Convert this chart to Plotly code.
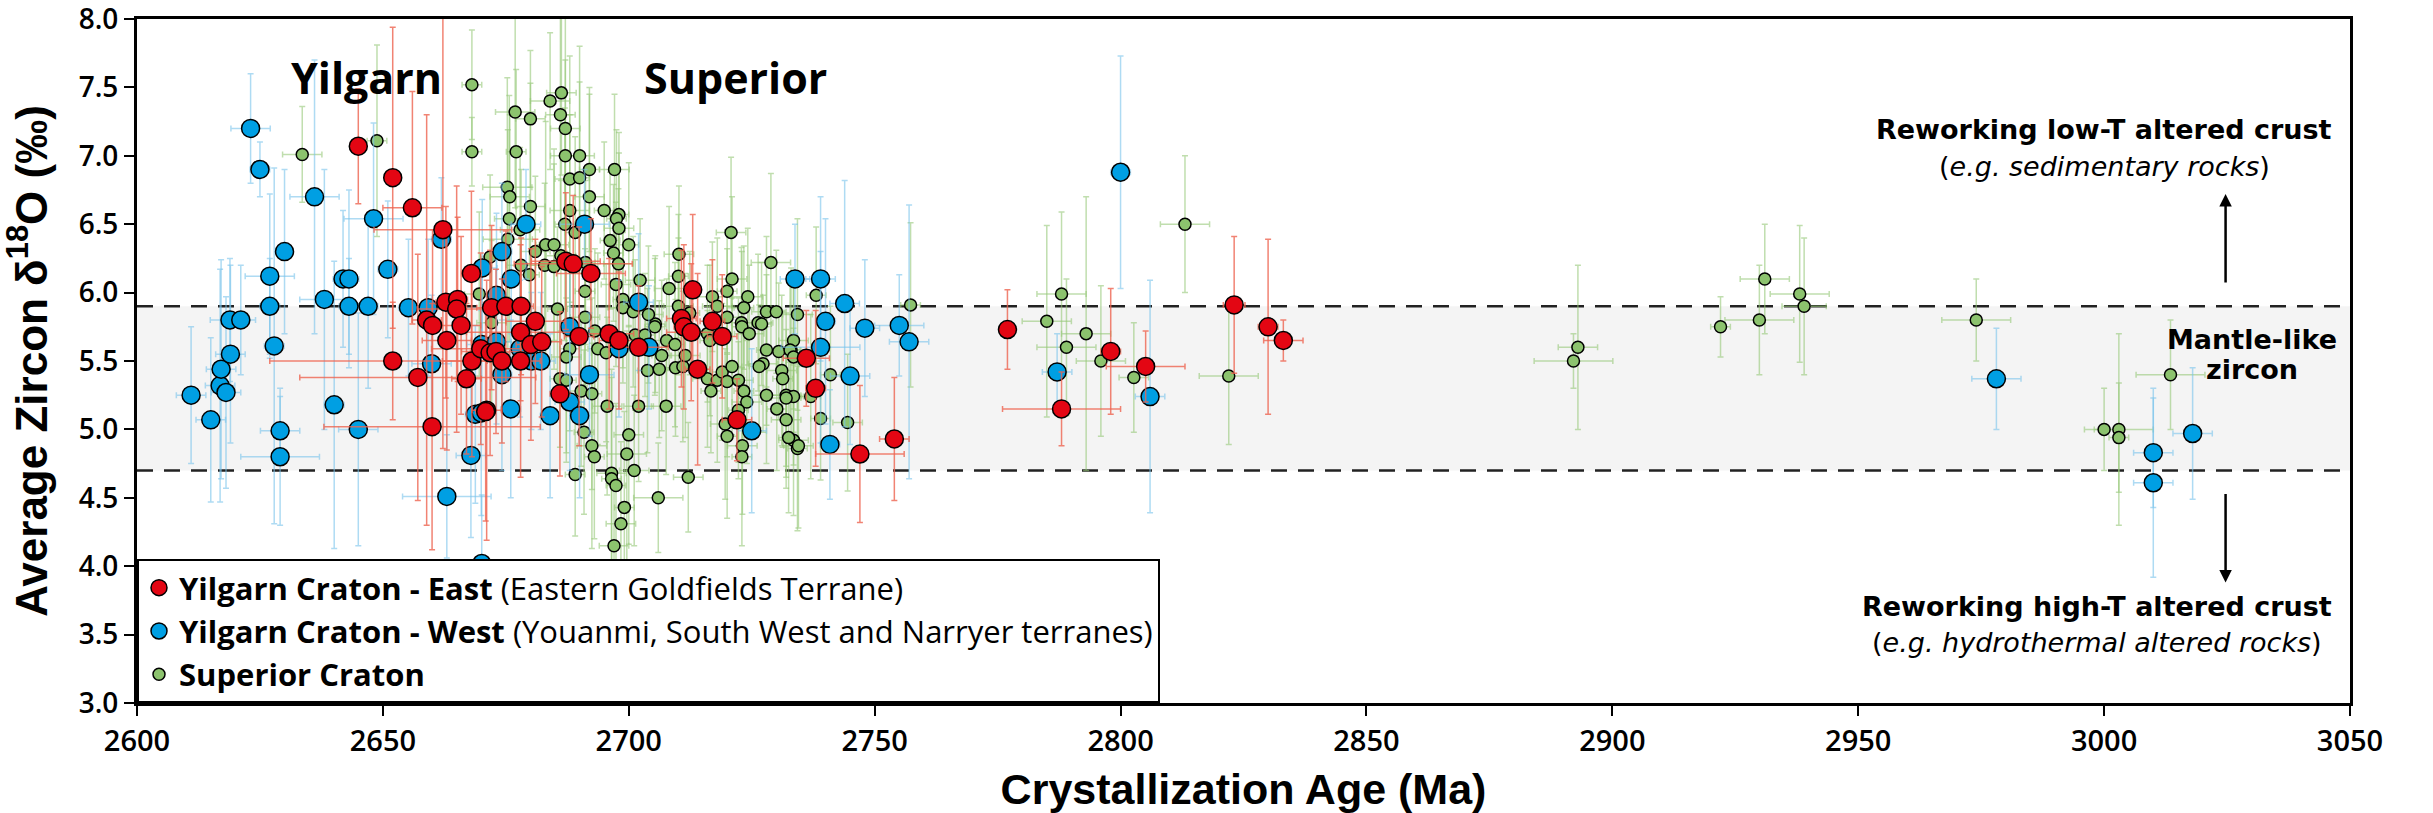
import plotly.graph_objects as go

# ---------------- data ----------------
# Yilgarn Craton - East
east_age = [2645.0, 2652.0, 2656.0, 2662.2, 2668.0, 2687.2, 2688.7, 2692.3, 2713.0, 2662.8,
            2665.2, 2665.0, 2672.1, 2675.0, 2678.1, 2658.9, 2660.1, 2665.9, 2681.0, 2710.7,
            2711.2, 2717.0, 2652.0, 2657.1, 2663.0, 2667.0, 2668.1, 2669.9, 2671.1, 2671.8,
            2673.0, 2674.2, 2678.0, 2678.0, 2680.1, 2682.3, 2686.0, 2689.9, 2696.0, 2698.0,
            2702.0, 2712.7, 2719.0, 2714.0, 2722.0, 2660.0, 2670.9, 2736.1, 2738.0, 2747.0,
            2754.0, 2777.0, 2788.0, 2798.0, 2805.1, 2823.1, 2830.0, 2833.1]
east_d18o = [7.07, 6.84, 6.62, 6.46, 6.14, 6.23, 6.21, 6.14, 6.02, 5.93,
             5.95, 5.88, 5.89, 5.90, 5.90, 5.80, 5.76, 5.76, 5.79, 5.81,
             5.75, 5.79, 5.50, 5.38, 5.65, 5.37, 5.50, 5.59, 5.14, 5.56,
             5.57, 5.50, 5.71, 5.50, 5.62, 5.64, 5.26, 5.68, 5.70, 5.65,
             5.60, 5.71, 5.68, 5.44, 5.07, 5.02, 5.13, 5.52, 5.30, 4.82,
             4.93, 5.73, 5.15, 5.57, 5.46, 5.91, 5.75, 5.65]
east_age_err = [1.0, 1.5, 6.0, 14.0, 2.0, 7.0, 12.0, 7.0, 1.5, 2.0,
                2.0, 8.0, 3.0, 3.0, 2.5, 3.0, 2.0, 4.0, 6.0, 3.0,
                2.0, 2.5, 25.0, 24.0, 5.0, 3.0, 6.0, 10.0, 3.0, 4.0,
                7.0, 3.0, 11.0, 4.0, 3.0, 4.0, 2.0, 3.0, 5.0, 4.0,
                6.0, 5.0, 3.0, 2.5, 3.0, 22.0, 2.0, 4.7, 2.0, 9.0,
                3.0, 1.5, 12.0, 2.0, 8.0, 2.2, 2.0, 4.0]
east_d18o_err = [0.42, 1.10, 0.85, 1.60, 0.60, 0.50, 0.50, 0.40, 0.55, 0.70,
                 0.60, 0.90, 0.60, 0.55, 0.50, 1.50, 0.70, 0.65, 0.60, 0.50,
                 0.60, 0.45, 0.43, 0.90, 0.80, 0.55, 0.70, 0.70, 0.95, 0.75,
                 0.60, 0.60, 0.50, 0.85, 0.70, 0.55, 0.60, 0.80, 0.55, 0.50,
                 0.45, 0.50, 0.45, 0.70, 0.30, 0.90, 0.80, 0.35, 0.57, 0.50,
                 0.45, 0.29, 0.27, 0.46, 0.26, 0.50, 0.64, 0.15]

# Yilgarn Craton - West
west_age = [2611.0, 2615.0, 2616.9, 2617.1, 2618.1, 2619.0, 2618.9, 2621.1, 2623.1, 2625.0,
            2627.0, 2627.0, 2627.9, 2629.1, 2629.1, 2630.0, 2636.1, 2638.1, 2640.1, 2641.9,
            2643.1, 2643.1, 2645.0, 2647.0, 2648.1, 2651.0, 2655.2, 2659.2, 2659.9, 2661.9,
            2663.0, 2667.9, 2668.8, 2670.0, 2670.1, 2670.2, 2670.1, 2673.1, 2673.1, 2674.2,
            2674.2, 2676.0, 2676.1, 2677.9, 2679.1, 2680.2, 2682.1, 2684.0, 2688.0, 2688.0,
            2690.0, 2691.0, 2692.0, 2698.0, 2702.0, 2704.1, 2725.0, 2733.8, 2739.0, 2739.0,
            2740.0, 2740.9, 2743.9, 2745.0, 2748.0, 2755.0, 2757.0, 2787.1, 2800.0, 2806.0,
            2978.1, 3010.0, 3010.0, 3018.0]
west_d18o = [5.25, 5.07, 5.32, 5.44, 5.27, 5.55, 5.80, 5.80, 7.20, 6.90,
             6.12, 5.90, 5.61, 4.99, 4.80, 6.30, 6.70, 5.95, 5.18, 6.10,
             6.10, 5.90, 5.00, 5.90, 6.54, 6.17, 5.89, 5.89, 5.48, 6.39,
             4.51, 4.81, 5.11, 5.12, 4.02, 6.18, 5.62, 5.64, 5.98, 6.30,
             5.40, 5.15, 6.10, 5.59, 6.50, 5.50, 5.50, 5.10, 5.75, 5.20,
             5.10, 6.50, 5.40, 5.59, 5.93, 5.60, 4.99, 6.10, 6.10, 5.60,
             5.79, 4.89, 5.92, 5.39, 5.74, 5.76, 5.64, 5.42, 6.88, 5.24,
             5.37, 4.83, 4.61, 4.97]
west_age_err = [3, 3, 3, 3, 3, 3, 4, 3, 4, 2,
                5, 2, 2, 4, 8, 1, 5, 5, 2, 2,
                2, 2, 4, 2, 6, 2, 2, 3, 4, 2,
                9, 3, 2, 2, 2, 3, 3, 3, 2, 2,
                2, 2, 2, 2, 3, 3, 3, 2, 2, 3,
                2, 5, 5, 2, 3, 2, 3, 3, 3, 8,
                2, 2, 3, 4, 3, 5, 4, 3, 2, 3,
                5, 4, 4, 4]
west_d18o_err = [0.50, 0.60, 0.85, 0.80, 0.70, 0.65, 0.45, 0.40, 0.40, 0.20,
                 0.60, 0.35, 1.30, 0.25, 0.50, 0.60, 1.00, 0.95, 1.05, 0.50,
                 0.65, 0.35, 0.85, 0.60, 0.70, 0.50, 0.50, 0.50, 0.50, 0.45,
                 0.45, 0.60, 0.65, 0.75, 0.50, 0.50, 0.60, 0.60, 0.60, 0.50,
                 0.70, 0.65, 0.40, 0.50, 0.40, 0.50, 0.50, 0.60, 0.50, 0.50,
                 0.60, 0.40, 0.45, 0.50, 0.50, 0.45, 0.60, 0.40, 0.60, 0.70,
                 0.75, 0.40, 0.90, 0.50, 0.50, 0.37, 1.00, 0.28, 0.85, 0.85,
                 0.37, 0.40, 0.69, 0.48]

# Superior Craton
sup_age = [2633.6, 2648.8, 2668.1, 2668.1, 2686.3, 2684.0, 2676.9, 2680.0, 2686.1, 2687.1,
           2677.1, 2687.1, 2690.0, 2697.1, 2692.0, 2688.0, 2690.0, 2675.3, 2675.8, 2692.0,
           2680.0, 2688.0, 2695.0, 2698.0, 2697.5, 2698.0, 2687.0, 2689.1, 2675.7, 2677.9,
           2696.2, 2700.0, 2696.9, 2681.0, 2683.1, 2684.8, 2686.2, 2675.4, 2671.8, 2678.1,
           2679.8, 2682.9, 2684.8, 2691.2, 2697.9, 2691.1, 2697.4, 2702.3, 2710.2, 2710.1,
           2708.2, 2720.8, 2721.0, 2720.0, 2724.2, 2717.0, 2728.9, 2718.0, 2723.4, 2728.0,
           2730.0, 2669.6, 2698.8, 2698.8, 2685.5, 2691.1, 2705.4, 2738.1, 2757.3, 2734.3,
           2710.1, 2712.4, 2700.9, 2704.0, 2720.0, 2722.9, 2726.3, 2672.1, 2693.1, 2693.7,
           2695.4, 2688.0, 2687.3, 2686.0, 2687.3, 2690.3, 2692.5, 2690.9, 2692.5, 2693.0,
           2689.1, 2696.5, 2696.5, 2697.4, 2701.1, 2699.6, 2700.0, 2699.1, 2698.4, 2697.0,
           2706.0, 2712.1, 2695.6, 2702.0, 2707.6, 2703.8, 2706.2, 2706.7, 2707.7, 2709.4,
           2709.5, 2711.0, 2711.5, 2705.3, 2701.3, 2703.3, 2716.0, 2716.7, 2718.0, 2719.0,
           2720.0, 2721.0, 2722.3, 2723.4, 2724.0, 2722.3, 2719.6, 2720.0, 2723.1, 2723.0,
           2728.0, 2730.1, 2732.0, 2728.0, 2730.5, 2733.0, 2727.3, 2726.5, 2731.1, 2731.3,
           2732.0, 2733.5, 2733.5, 2734.3, 2733.5, 2723.0, 2724.5, 2727.0, 2716.0, 2716.5,
           2732.8, 2733.5, 2741.0, 2737.0, 2732.0, 2739.0, 2744.5, 2732.5, 2734.5, 2785.0,
           2788.0, 2793.0, 2789.0, 2796.0, 2802.7, 2813.1, 2822.0, 2893.0, 2892.1, 2922.0,
           2931.0, 2929.9, 2938.1, 2939.0, 2974.0, 3000.0, 3003.0, 3003.0, 3013.5]
sup_d18o = [7.01, 7.11, 7.52, 7.03, 7.46, 7.40, 7.32, 7.27, 7.30, 7.20,
            7.03, 7.00, 7.00, 6.90, 6.90, 6.83, 6.84, 6.77, 6.70, 6.70,
            6.63, 6.60, 6.60, 6.57, 6.54, 6.47, 6.50, 6.44, 6.54, 6.46,
            6.38, 6.35, 6.29, 6.30, 6.35, 6.35, 6.27, 6.39, 6.26, 6.20,
            6.13, 6.20, 6.19, 6.22, 6.21, 6.01, 6.06, 6.09, 6.28, 6.12,
            6.03, 6.44, 6.10, 6.01, 5.97, 5.97, 6.22, 5.90, 5.89, 5.86,
            5.86, 5.99, 5.95, 5.89, 5.88, 5.82, 5.77, 5.98, 5.91, 5.84,
            5.90, 5.85, 5.86, 5.84, 5.82, 5.78, 5.78, 5.78, 5.72, 5.59,
            5.56, 5.59, 5.53, 5.37, 5.36, 5.28, 5.26, 4.98, 4.88, 4.80,
            4.67, 4.68, 4.64, 4.59, 4.70, 4.82, 4.96, 4.43, 4.31, 4.15,
            4.50, 4.65, 5.17, 5.17, 5.17, 5.43, 5.44, 5.54, 5.65, 5.62,
            5.45, 5.46, 5.54, 5.75, 5.69, 5.69, 5.37, 5.28, 5.36, 5.42,
            5.35, 5.46, 5.36, 5.28, 5.20, 5.14, 5.04, 4.95, 4.88, 4.80,
            5.25, 5.15, 5.07, 5.58, 5.57, 5.58, 5.48, 5.46, 5.43, 5.37,
            5.25, 5.24, 4.92, 4.86, 5.65, 5.75, 5.70, 5.77, 5.70, 5.65,
            5.58, 5.53, 5.40, 5.24, 5.23, 5.08, 5.05, 4.94, 4.88, 5.79,
            5.99, 5.70, 5.60, 5.50, 5.38, 6.50, 5.39, 5.60, 5.50, 5.75,
            6.10, 5.80, 5.99, 5.90, 5.80, 5.00, 5.00, 4.94, 5.40]
sup_age_err = [4, 2, 2, 2, 3, 4, 4, 3, 3, 3,
               2, 3, 3, 3, 2, 3, 2, 5, 4, 3,
               3, 4, 2, 2, 2, 3, 2, 2, 3, 4,
               2, 2, 2, 3, 2, 3, 3, 5, 2, 3,
               2, 4, 3, 2, 3, 2, 3, 3, 3, 2,
               3, 3, 3, 2, 3, 4, 4, 3, 2, 3,
               2, 3, 2, 3, 2, 3, 2, 2, 2, 3,
               3, 2, 2, 3, 3, 2, 3, 3, 3, 2,
               3, 2, 3, 2, 2, 3, 2, 2, 3, 2,
               2, 3, 2, 2, 3, 4, 3, 2, 3, 3,
               5, 3, 3, 3, 3, 2, 3, 2, 3, 2,
               3, 2, 3, 2, 3, 2, 3, 2, 3, 2,
               3, 2, 3, 2, 3, 2, 3, 2, 3, 2,
               3, 2, 3, 2, 3, 2, 3, 2, 3, 2,
               3, 2, 3, 2, 3, 2, 3, 2, 3, 2,
               2, 3, 2, 2, 3, 2, 3, 2, 3, 5,
               5, 5, 6, 5, 3, 5, 6, 4, 8, 2,
               5, 7, 6, 4.5, 7, 2, 7, 2, 7]
sup_d18o_err = [0.35, 0.70, 0.40, 0.25, 0.60, 0.50, 0.70, 0.50, 0.80, 0.90,
                0.60, 0.70, 0.80, 0.55, 0.60, 0.90, 0.70, 0.80, 0.60, 0.75,
                0.90, 0.70, 0.50, 0.60, 0.65, 0.55, 0.85, 0.70, 0.90, 0.60,
                0.50, 0.60, 0.50, 0.55, 0.90, 0.70, 0.55, 0.80, 0.60, 0.70,
                0.50, 0.60, 0.75, 0.60, 0.55, 0.70, 0.60, 0.45, 0.50, 0.45,
                0.60, 0.55, 0.60, 0.45, 0.50, 0.40, 0.65, 0.50, 0.45, 0.55,
                0.45, 0.60, 0.50, 0.55, 0.60, 0.50, 0.50, 0.50, 0.60, 0.70,
                0.50, 0.45, 0.55, 0.50, 0.50, 0.55, 0.50, 0.60, 0.60, 0.70,
                0.65, 0.60, 0.70, 0.50, 0.60, 0.55, 0.70, 0.60, 0.75, 0.60,
                0.45, 0.70, 0.80, 0.60, 0.55, 0.90, 0.80, 0.70, 0.60, 0.55,
                0.40, 0.40, 0.65, 0.55, 0.50, 0.60, 0.50, 0.55, 0.45, 0.60,
                0.50, 0.55, 0.60, 0.50, 0.55, 0.45, 0.50, 0.45, 0.60, 0.50,
                0.55, 0.50, 0.60, 0.50, 0.45, 0.50, 0.55, 0.60, 0.50, 0.65,
                0.50, 0.45, 0.50, 0.55, 0.50, 0.60, 0.50, 0.45, 0.55, 0.50,
                0.60, 0.50, 0.55, 0.60, 0.50, 0.55, 0.50, 0.45, 0.50, 0.55,
                0.50, 0.55, 0.50, 0.60, 0.50, 0.45, 0.50, 0.55, 0.60, 0.70,
                0.60, 1.00, 0.50, 0.55, 0.40, 0.50, 0.50, 0.60, 0.20, 0.22,
                0.40, 0.40, 0.50, 0.50, 0.30, 0.30, 0.70, 0.40, 0.40]

series_names = [
    "<b>Superior Craton</b>",
    "<b>Yilgarn Craton - West</b> (Youanmi, South West and Narryer terranes)",
    "<b>Yilgarn Craton - East</b> (Eastern Goldfields Terrane)",
]

mantle_low, mantle_high = 4.7, 5.9

# ---------------- figure ----------------
fig = go.Figure()

def add_series(age, d18o, age_err, d18o_err, name, color, err_color, size, rank):
    fig.add_trace(go.Scatter(
        x=age, y=d18o, mode="markers", name=name, legendrank=rank,
        marker=dict(size=size, color=color, line=dict(color="black", width=1.5)),
        error_x=dict(type="data", array=age_err, color=err_color, thickness=1.5, width=3),
        error_y=dict(type="data", array=d18o_err, color=err_color, thickness=1.5, width=3),
    ))

add_series(sup_age, sup_d18o, sup_age_err, sup_d18o_err, series_names[0],
           "#8cc36e", "rgba(150,200,120,0.6)", 12, 3)
add_series(west_age, west_d18o, west_age_err, west_d18o_err, series_names[1],
           "#009fe3", "rgba(120,195,235,0.6)", 18, 2)
add_series(east_age, east_d18o, east_age_err, east_d18o_err, series_names[2],
           "#e30613", "rgba(238,100,80,0.8)", 18, 1)

# mantle band and dashed limits
fig.add_shape(type="rect", xref="x", yref="y", x0=2600, x1=3050, y0=mantle_low, y1=mantle_high,
              fillcolor="#f4f4f4", line=dict(width=0), layer="below")
for yv in (mantle_low, mantle_high):
    fig.add_shape(type="line", xref="x", yref="y", x0=2600, x1=3050, y0=yv, y1=yv,
                  line=dict(color="#222222", width=2.5, dash="16px,11px"), layer="below")

ann_font = "DejaVu Sans"
annotations = [
    dict(x=2646.6, y=7.57, text="<b>Yilgarn</b>", font=dict(family="Open Sans", size=43, color="black")),
    dict(x=2721.8, y=7.57, text="<b>Superior</b>", font=dict(family="Open Sans", size=43, color="black")),
    dict(x=3000, y=7.19, text="<b>Reworking low-T altered crust</b>", font=dict(family=ann_font, size=27, color="black")),
    dict(x=3000, y=6.92, text="(<i>e.g. sedimentary rocks</i>)", font=dict(family=ann_font, size=27, color="black")),
    dict(x=3030, y=5.66, text="<b>Mantle-like</b>", font=dict(family=ann_font, size=27, color="black")),
    dict(x=3030, y=5.44, text="<b>zircon</b>", font=dict(family=ann_font, size=27, color="black")),
    dict(x=2998.5, y=3.705, text="<b>Reworking high-T altered crust</b>", font=dict(family=ann_font, size=27, color="black")),
    dict(x=2998.5, y=3.44, text="(<i>e.g. hydrothermal altered rocks</i>)", font=dict(family=ann_font, size=27, color="black")),
]
for a in annotations:
    fig.add_annotation(xref="x", yref="y", showarrow=False, xanchor="center", yanchor="middle", **a)

# arrows
fig.add_annotation(x=3024.7, y=6.72, ax=3024.7, ay=6.0, xref="x", yref="y", axref="x", ayref="y",
                   text=" ", showarrow=True, arrowhead=2, arrowsize=1, arrowwidth=2.5, arrowcolor="black")
fig.add_annotation(x=3024.7, y=3.88, ax=3024.7, ay=4.60, xref="x", yref="y", axref="x", ayref="y",
                   text=" ", showarrow=True, arrowhead=2, arrowsize=1, arrowwidth=2.5, arrowcolor="black")

axis_common = dict(showline=True, linewidth=3, linecolor="black", mirror=True, showgrid=False,
                   zeroline=False, ticks="outside", ticklen=10, tickwidth=2, tickcolor="black",
                   ticklabeloverflow="allow", automargin=False)

fig.update_layout(
    width=2433, height=813,
    margin=dict(l=137, r=83, t=19, b=110, autoexpand=False),
    paper_bgcolor="white", plot_bgcolor="white",
    xaxis=dict(range=[2600, 3050], tick0=2600, dtick=50,
               tickfont=dict(family="Open Sans", size=29, color="black", weight=600),
               title=dict(text="<b>Crystallization Age (Ma)</b>", standoff=18,
                          font=dict(family="Liberation Sans", size=43, color="black")),
               **axis_common),
    yaxis=dict(range=[3, 8], tick0=3, dtick=0.5, tickformat=".1f",
               tickfont=dict(family="Open Sans", size=28, color="black", weight=600),
               title=dict(text="<b>Average Zircon δ<sup>18</sup>O (‰)</b>", standoff=18,
                          font=dict(family="Liberation Sans", size=44, color="black")),
               **axis_common),
    legend=dict(x=0, y=0, xanchor="left", yanchor="bottom", bgcolor="white",
                bordercolor="black", borderwidth=2,
                font=dict(family="Open Sans", size=31, color="black")),
    showlegend=True,
)

fig.write_html("out.html")
